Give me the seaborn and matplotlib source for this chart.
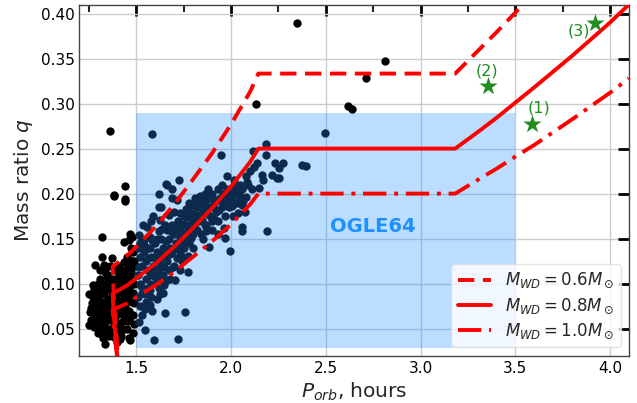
import numpy as np
import pandas as pd
import matplotlib
matplotlib.use("Agg")
import matplotlib.pyplot as plt
from matplotlib.patches import Rectangle
from matplotlib.ticker import MultipleLocator
import seaborn as sns

# ---------------- data ----------------
navy_p = [1.583, 2.495, 1.946, 2.184, 2.114, 2.184, 2.135, 2.232, 2.272, 2.254, 2.372, 2.395, 2.161, 2.214,
          2.24, 2.254, 2.17, 2.083, 2.016, 1.951, 2.021, 2.109, 2.147, 2.079, 1.995, 2.047, 1.81, 1.863, 1.80,
          1.907, 1.977, 2.012, 2.056, 2.074, 2.056, 2.06, 2.191, 1.995, 1.886, 1.968,
          1.723, 1.714, 1.67, 1.626, 1.635, 1.556, 1.512, 1.538, 1.574, 1.732, 1.767, 1.793, 1.767, 1.714,
          1.732, 1.775, 1.775, 1.705, 1.644, 1.626, 1.609, 1.574, 1.583, 1.547, 1.512, 1.547, 1.595, 1.653,
          1.758, 1.719,
          1.51, 1.52, 1.53, 1.51, 1.52, 1.53, 1.51, 1.54, 1.55, 1.56, 1.55, 1.56, 1.57, 1.58, 1.59, 1.57,
          1.58, 1.60, 1.61, 1.62, 1.60, 1.61, 1.63, 1.64, 1.65, 1.63, 1.64, 1.66, 1.67, 1.68, 1.66, 1.67,
          1.69, 1.70, 1.71, 1.69, 1.70, 1.72, 1.73, 1.74, 1.72, 1.74, 1.75, 1.76, 1.77, 1.75, 1.78, 1.79,
          1.80, 1.78, 1.81, 1.82, 1.83, 1.82, 1.84, 1.85, 1.86, 1.84, 1.87, 1.88, 1.89, 1.87, 1.90, 1.91,
          1.92, 1.90, 1.93, 1.94, 1.95, 1.93, 1.96, 1.97, 1.98, 1.99, 2.00, 2.01, 2.02, 2.03, 2.04, 2.06,
          2.08, 2.10, 2.12, 1.93, 1.85, 1.80, 1.73, 1.68, 1.64, 1.58, 1.55, 1.52, 1.53, 1.62, 1.88, 1.98,
          1.86, 1.78, 1.70, 1.65, 1.61, 1.56, 1.53, 1.52, 1.66, 1.69, 1.59, 1.63,
          1.515, 1.527, 1.541, 1.548, 1.563, 1.571, 1.585, 1.592, 1.604, 1.617, 1.622, 1.638, 1.647, 1.655,
          1.662, 1.676, 1.684, 1.693, 1.707, 1.716, 1.728, 1.737, 1.745, 1.756, 1.763, 1.776, 1.788, 1.797,
          1.806, 1.815, 1.826, 1.838, 1.847, 1.856, 1.868, 1.874, 1.886, 1.897, 1.912, 1.924, 1.938, 1.957,
          1.964, 1.985, 2.005, 2.018, 2.035, 2.045, 2.065, 2.09, 1.618, 1.659, 1.62, 1.575, 1.535, 1.69]
navy_q = [0.266, 0.267, 0.2425, 0.2556, 0.247, 0.2433, 0.2345, 0.2345, 0.2345, 0.228, 0.232, 0.231, 0.221, 0.221,
          0.217, 0.217, 0.215, 0.213, 0.215, 0.210, 0.205, 0.205, 0.206, 0.196, 0.196, 0.196, 0.195, 0.191, 0.187,
          0.185, 0.187, 0.191, 0.187, 0.180, 0.163, 0.158, 0.158, 0.136, 0.141, 0.151,
          0.215, 0.1925, 0.176, 0.1703, 0.161, 0.163, 0.154, 0.148, 0.152, 0.152, 0.157, 0.172, 0.174, 0.128,
          0.135, 0.131, 0.113, 0.104, 0.098, 0.089, 0.083, 0.076, 0.070, 0.072, 0.057, 0.048, 0.037, 0.067,
          0.068, 0.039,
          0.14, 0.13, 0.12, 0.11, 0.10, 0.09, 0.085, 0.135, 0.125, 0.115, 0.105, 0.095, 0.14, 0.13, 0.12, 0.11,
          0.10, 0.145, 0.135, 0.125, 0.115, 0.105, 0.15, 0.14, 0.13, 0.12, 0.11, 0.16, 0.15, 0.14, 0.125, 0.115,
          0.165, 0.155, 0.145, 0.135, 0.12, 0.17, 0.16, 0.145, 0.14, 0.125, 0.175, 0.165, 0.15, 0.14, 0.18, 0.165,
          0.155, 0.145, 0.175, 0.185, 0.17, 0.16, 0.19, 0.18, 0.165, 0.155, 0.195, 0.185, 0.175, 0.165, 0.20, 0.19,
          0.18, 0.17, 0.205, 0.195, 0.185, 0.17, 0.20, 0.175, 0.205, 0.185, 0.20, 0.175, 0.21, 0.19, 0.20, 0.205,
          0.22, 0.225, 0.23, 0.155, 0.15, 0.14, 0.115, 0.105, 0.09, 0.085, 0.08, 0.075, 0.065, 0.095, 0.205, 0.22,
          0.20, 0.19, 0.18, 0.165, 0.15, 0.14, 0.15, 0.145, 0.21, 0.195, 0.175, 0.185,
          0.118, 0.097, 0.143, 0.088, 0.128, 0.093, 0.148, 0.108, 0.127, 0.112, 0.158, 0.132, 0.118, 0.147,
          0.104, 0.133, 0.158, 0.118, 0.162, 0.141, 0.178, 0.131, 0.166, 0.153, 0.183, 0.162, 0.151, 0.178,
          0.165, 0.190, 0.176, 0.197, 0.171, 0.186, 0.158, 0.178, 0.195, 0.160, 0.172, 0.193, 0.182, 0.190,
          0.162, 0.195, 0.186, 0.198, 0.178, 0.210, 0.192, 0.210, 0.200, 0.211, 0.185, 0.170, 0.165, 0.205]

black_p = [1.363, 1.384, 1.442, 1.44, 2.132, 2.346, 2.81, 2.71, 2.617, 2.638, 1.381, 1.438, 1.319, 1.468, 1.477,
           1.433, 1.46, 1.319, 1.372, 1.284, 1.328, 1.337, 1.346, 1.433, 1.468, 1.451, 1.406, 1.433, 1.249, 1.275,
           1.311, 1.267, 1.284, 1.258, 1.275, 1.284, 1.249, 1.337, 1.468, 1.416, 1.381, 1.46, 1.433, 1.433, 1.406,
           1.477, 1.46, 1.433, 1.477, 1.468,
           1.29, 1.30, 1.32, 1.31, 1.33, 1.34, 1.35, 1.36, 1.37, 1.38, 1.39, 1.40, 1.41, 1.42, 1.43, 1.44, 1.45,
           1.30, 1.32, 1.33, 1.35, 1.36, 1.37, 1.39, 1.40, 1.42, 1.44, 1.46, 1.29, 1.31, 1.33, 1.35, 1.36, 1.38,
           1.39, 1.41, 1.43, 1.45, 1.30, 1.32, 1.34, 1.35, 1.37, 1.40, 1.47, 1.45, 1.42, 1.39, 1.36, 1.35, 1.38,
           1.41, 1.44, 1.48, 1.49, 1.48, 1.47, 1.49, 1.31, 1.27, 1.26, 1.28, 1.31, 1.48, 1.46, 1.42, 1.33, 1.38,
           1.34, 1.48,
           1.262, 1.271, 1.288, 1.296, 1.304, 1.317, 1.323, 1.336, 1.344, 1.353, 1.364, 1.372, 1.385, 1.397,
           1.404, 1.413, 1.424, 1.437, 1.447, 1.455, 1.463, 1.474, 1.486, 1.492, 1.30, 1.357, 1.395, 1.325,
           1.455, 1.49]
black_q = [0.270, 0.199, 0.2085, 0.194, 0.300, 0.389, 0.347, 0.328, 0.297, 0.294, 0.197, 0.192, 0.152, 0.1555, 0.152,
           0.146, 0.148, 0.130, 0.128, 0.121, 0.121, 0.113, 0.107, 0.124, 0.126, 0.1165, 0.109, 0.106, 0.089, 0.0945,
           0.080, 0.078, 0.070, 0.068, 0.052, 0.053, 0.054, 0.033, 0.037, 0.039, 0.041, 0.061, 0.065, 0.050, 0.046,
           0.080, 0.087, 0.083, 0.102, 0.109,
           0.09, 0.085, 0.095, 0.105, 0.09, 0.08, 0.095, 0.10, 0.09, 0.085, 0.095, 0.10, 0.09, 0.095, 0.10, 0.09, 0.095,
           0.075, 0.07, 0.065, 0.07, 0.075, 0.065, 0.07, 0.075, 0.07, 0.075, 0.07, 0.06, 0.06, 0.055, 0.06, 0.05, 0.055,
           0.06, 0.055, 0.058, 0.05, 0.045, 0.048, 0.042, 0.05, 0.045, 0.035, 0.12, 0.13, 0.115, 0.115, 0.12, 0.11, 0.105,
           0.12, 0.11, 0.09, 0.10, 0.135, 0.14, 0.125, 0.115, 0.085, 0.06, 0.065, 0.052, 0.045, 0.04, 0.042, 0.10, 0.075,
           0.062, 0.065,
           0.073, 0.098, 0.082, 0.067, 0.094, 0.078, 0.088, 0.072, 0.097, 0.083, 0.067, 0.103, 0.064, 0.082,
           0.066, 0.104, 0.081, 0.068, 0.104, 0.083, 0.095, 0.113, 0.078, 0.120, 0.100, 0.042, 0.050, 0.040,
           0.058, 0.055]

# evolutionary tracks (P_orb in hours, q)
track_p06 = [1.400, 1.393, 1.387, 1.381, 1.377, 1.375, 1.45, 1.5, 1.6, 1.7, 1.8, 1.9, 2.0, 2.1, 2.144,
             3.183, 3.3, 3.4, 3.5, 3.6]
track_q06 = [0.027, 0.047, 0.067, 0.087, 0.107, 0.119, 0.131, 0.141, 0.163, 0.188, 0.216, 0.245, 0.277, 0.313, 0.3333,
             0.3333, 0.358, 0.379, 0.401, 0.424]
track_p08 = [1.400, 1.393, 1.387, 1.381, 1.377, 1.375, 1.45, 1.5, 1.6, 1.7, 1.8, 1.9, 2.0, 2.1, 2.144,
             3.183, 3.3, 3.4, 3.5, 3.6, 3.8, 4.0, 4.1]
track_q08 = [0.020, 0.035, 0.050, 0.065, 0.080, 0.089, 0.098, 0.106, 0.122, 0.141, 0.162, 0.184, 0.208, 0.235, 0.250,
             0.250, 0.268, 0.284, 0.301, 0.318, 0.353, 0.390, 0.410]
track_p10 = [1.400, 1.393, 1.387, 1.381, 1.377, 1.375, 1.45, 1.5, 1.6, 1.7, 1.8, 1.9, 2.0, 2.1, 2.144,
             3.183, 3.3, 3.4, 3.5, 3.6, 3.8, 4.0, 4.1]
track_q10 = [0.016, 0.028, 0.040, 0.052, 0.064, 0.071, 0.078, 0.085, 0.098, 0.113, 0.130, 0.147, 0.166, 0.188, 0.200,
             0.200, 0.215, 0.2275, 0.241, 0.254, 0.2825, 0.312, 0.328]

star_p = [3.586, 3.354, 3.921]
star_q = [0.2778, 0.3196, 0.390]
star_labels = ["(1)", "(2)", "(3)"]
label_p = [3.626, 3.351, 3.837]
label_q = [0.2956, 0.336, 0.3807]

ogle_p = [1.5, 3.5]
ogle_q = [0.029, 0.29]

# ---------------- plot ----------------
sns.set_style("whitegrid")
plt.rcParams['font.family'] = ['DejaVu Sans']
plt.rcParams['mathtext.fontset'] = 'dejavusans'

fig = plt.figure(figsize=(6.37, 4.03), dpi=100)
ax = fig.add_axes([0.1248, 0.1174, 0.8626, 0.8714])

ax.add_patch(Rectangle((ogle_p[0], ogle_q[0]), ogle_p[1] - ogle_p[0], ogle_q[1] - ogle_q[0],
                       facecolor='dodgerblue', alpha=0.3, edgecolor='none', zorder=1))
ax.text(2.52, 0.163, "OGLE64", color='dodgerblue', fontsize=14, fontweight='bold',
        ha='left', va='center', zorder=2)

black_df = pd.DataFrame({"P": black_p, "q": black_q})
navy_df = pd.DataFrame({"P": navy_p, "q": navy_q})
sns.scatterplot(data=black_df, x="P", y="q", ax=ax, color='black', s=36, linewidth=0, zorder=2)
sns.scatterplot(data=navy_df, x="P", y="q", ax=ax, color='#0b2a4c', s=36, linewidth=0, zorder=2)

tracks = [(track_p06, track_q06, (0, (4.2, 2.2)), r"$M_{WD}=0.6M_\odot$"),
          (track_p08, track_q08, '-', r"$M_{WD}=0.8M_\odot$"),
          (track_p10, track_q10, (0, (6, 2, 1, 2)), r"$M_{WD}=1.0M_\odot$")]
for tp, tq, ls, lab in tracks:
    df = pd.DataFrame({"P": tp, "q": tq})
    sns.lineplot(data=df, x="P", y="q", ax=ax, sort=False, estimator=None, color='red',
                 linewidth=2.8, linestyle=ls, label=lab, zorder=3)

sns.scatterplot(x=star_p, y=star_q, ax=ax, marker='*', s=190, color='#228b22', linewidth=0, zorder=4)
for lp, lq, t in zip(label_p, label_q, star_labels):
    ax.text(lp, lq, t, color='#228b22', fontsize=11.5, ha='center', va='center', zorder=4)

ax.set_xlim(1.2, 4.1)
ax.set_ylim(0.02, 0.41)
ax.set_xticks([1.5, 2.0, 2.5, 3.0, 3.5, 4.0])
ax.set_yticks([0.05, 0.10, 0.15, 0.20, 0.25, 0.30, 0.35, 0.40])
ax.xaxis.set_minor_locator(MultipleLocator(0.25))
ax.grid(True, which='major', color='#cccccc', linewidth=1)
ax.grid(False, which='minor')
ax.set_axisbelow(True)
ax.tick_params(which='major', direction='in', top=True, right=True, length=8, width=2,
               labelsize=11, colors='black')
ax.tick_params(which='minor', direction='in', top=True, right=True, length=5, width=1.5)
ax.tick_params(axis='y', which='minor', left=False, right=False)
for sp in ax.spines.values():
    sp.set_color('#444444')
    sp.set_linewidth(1.0)

ax.set_xlabel(r"$P_{orb}$, hours", fontsize=14.5)
ax.set_ylabel(r"Mass ratio $q$", fontsize=14.5)

leg = ax.legend(loc='lower right', fontsize=12, frameon=True, framealpha=0.8, handlelength=2.0,
                labelspacing=0.35)
leg.get_frame().set_edgecolor('#dddddd')

fig.savefig("out.png", dpi=100)
